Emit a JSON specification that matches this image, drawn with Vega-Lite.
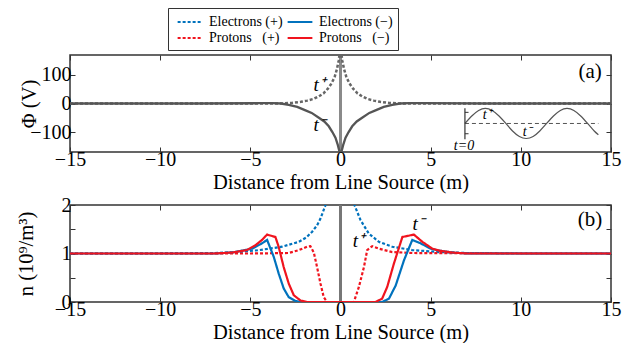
{
  "$schema": "https://vega.github.io/schema/vega-lite/v6.json",
  "background": "white",
  "padding": {"left": 15, "top": 7, "right": 4, "bottom": 2},
  "config": {
    "font": "Liberation Serif",
    "view": {"stroke": "#333", "strokeWidth": 1.5},
    "axis": {
      "labelFont": "Liberation Serif", "labelFontSize": 20, "labelColor": "black",
      "titleFont": "Liberation Serif", "titleFontSize": 20.5, "titleFontWeight": "normal", "titleColor": "black",
      "domain": false, "grid": false, "tickColor": "#333", "tickSize": -5, "tickWidth": 1
    }
  },
  "datasets": {
    "phi": [
      {"x": -15, "phi": 0, "t": "t+"}, {"x": -8, "phi": 0, "t": "t+"}, {"x": -4, "phi": 0, "t": "t+"},
      {"x": -3.2, "phi": 0.5, "t": "t+"}, {"x": -2.7, "phi": 2, "t": "t+"}, {"x": -2.2, "phi": 6, "t": "t+"},
      {"x": -1.85, "phi": 10, "t": "t+"}, {"x": -1.5, "phi": 16, "t": "t+"}, {"x": -1.2, "phi": 25, "t": "t+"},
      {"x": -0.95, "phi": 35, "t": "t+"}, {"x": -0.7, "phi": 52, "t": "t+"}, {"x": -0.5, "phi": 70, "t": "t+"},
      {"x": -0.33, "phi": 92, "t": "t+"}, {"x": -0.2, "phi": 120, "t": "t+"}, {"x": -0.1, "phi": 150, "t": "t+"},
      {"x": 0, "phi": 200, "t": "t+"}, {"x": 0.1, "phi": 150, "t": "t+"}, {"x": 0.2, "phi": 120, "t": "t+"},
      {"x": 0.33, "phi": 92, "t": "t+"}, {"x": 0.5, "phi": 70, "t": "t+"}, {"x": 0.7, "phi": 52, "t": "t+"},
      {"x": 0.95, "phi": 35, "t": "t+"}, {"x": 1.2, "phi": 25, "t": "t+"}, {"x": 1.5, "phi": 16, "t": "t+"},
      {"x": 1.85, "phi": 10, "t": "t+"}, {"x": 2.2, "phi": 6, "t": "t+"}, {"x": 2.7, "phi": 2, "t": "t+"},
      {"x": 3.2, "phi": 0.5, "t": "t+"}, {"x": 4, "phi": 0, "t": "t+"}, {"x": 8, "phi": 0, "t": "t+"},
      {"x": 15, "phi": 0, "t": "t+"},
      {"x": -15, "phi": 0, "t": "t-"}, {"x": -8, "phi": 0, "t": "t-"}, {"x": -4.5, "phi": 1, "t": "t-"},
      {"x": -3.8, "phi": 1.5, "t": "t-"}, {"x": -3.3, "phi": 0, "t": "t-"}, {"x": -2.87, "phi": -5, "t": "t-"},
      {"x": -2.4, "phi": -12, "t": "t-"}, {"x": -1.94, "phi": -24, "t": "t-"}, {"x": -1.6, "phi": -33, "t": "t-"},
      {"x": -1.2, "phi": -50, "t": "t-"}, {"x": -0.9, "phi": -63, "t": "t-"}, {"x": -0.65, "phi": -80, "t": "t-"},
      {"x": -0.45, "phi": -100, "t": "t-"}, {"x": -0.28, "phi": -120, "t": "t-"}, {"x": -0.15, "phi": -145, "t": "t-"},
      {"x": -0.05, "phi": -170, "t": "t-"}, {"x": 0, "phi": -200, "t": "t-"}, {"x": 0.05, "phi": -170, "t": "t-"},
      {"x": 0.15, "phi": -145, "t": "t-"}, {"x": 0.28, "phi": -120, "t": "t-"}, {"x": 0.45, "phi": -100, "t": "t-"},
      {"x": 0.65, "phi": -80, "t": "t-"}, {"x": 0.9, "phi": -63, "t": "t-"}, {"x": 1.2, "phi": -50, "t": "t-"},
      {"x": 1.6, "phi": -33, "t": "t-"}, {"x": 1.94, "phi": -24, "t": "t-"}, {"x": 2.4, "phi": -12, "t": "t-"},
      {"x": 2.87, "phi": -5, "t": "t-"}, {"x": 3.3, "phi": 0, "t": "t-"}, {"x": 3.8, "phi": 1.5, "t": "t-"},
      {"x": 4.5, "phi": 1, "t": "t-"}, {"x": 8, "phi": 0, "t": "t-"}, {"x": 15, "phi": 0, "t": "t-"}
    ],
    "sine": [
      {"x": 6.9, "phi": -70}, {"x": 7.28, "phi": -43.7}, {"x": 7.66, "phi": -24.4}, {"x": 8.03, "phi": -17.4},
      {"x": 8.41, "phi": -24.4}, {"x": 8.79, "phi": -43.7}, {"x": 9.17, "phi": -70}, {"x": 9.54, "phi": -96.3},
      {"x": 9.92, "phi": -115.6}, {"x": 10.3, "phi": -122.6}, {"x": 10.68, "phi": -115.6}, {"x": 11.05, "phi": -96.3},
      {"x": 11.43, "phi": -70}, {"x": 11.81, "phi": -43.7}, {"x": 12.19, "phi": -24.4}, {"x": 12.56, "phi": -17.4},
      {"x": 12.94, "phi": -24.4}, {"x": 13.32, "phi": -43.7}, {"x": 13.7, "phi": -70}, {"x": 14.07, "phi": -96.3},
      {"x": 14.3, "phi": -109.5}
    ],
    "dens": [
      {"x": -15, "n": 1, "series": "Electrons (+)"}, {"x": -10, "n": 1, "series": "Electrons (+)"},
      {"x": -7, "n": 1.01, "series": "Electrons (+)"}, {"x": -5.65, "n": 1.03, "series": "Electrons (+)"},
      {"x": -4.5, "n": 1.07, "series": "Electrons (+)"}, {"x": -3.24, "n": 1.14, "series": "Electrons (+)"},
      {"x": -2.31, "n": 1.24, "series": "Electrons (+)"}, {"x": -1.9, "n": 1.33, "series": "Electrons (+)"},
      {"x": -1.57, "n": 1.45, "series": "Electrons (+)"}, {"x": -1.3, "n": 1.58, "series": "Electrons (+)"},
      {"x": -1.11, "n": 1.72, "series": "Electrons (+)"}, {"x": -0.8, "n": 2.03, "series": "Electrons (+)"},
      {"x": -0.5, "n": 2.6, "series": "Electrons (+)"}, {"x": -0.2, "n": 3.5, "series": "Electrons (+)"},
      {"x": 0.2, "n": 3.5, "series": "Electrons (+)"}, {"x": 0.45, "n": 2.6, "series": "Electrons (+)"},
      {"x": 0.74, "n": 2.03, "series": "Electrons (+)"}, {"x": 1.11, "n": 1.69, "series": "Electrons (+)"},
      {"x": 1.57, "n": 1.41, "series": "Electrons (+)"}, {"x": 2.13, "n": 1.24, "series": "Electrons (+)"},
      {"x": 2.87, "n": 1.14, "series": "Electrons (+)"}, {"x": 3.98, "n": 1.07, "series": "Electrons (+)"},
      {"x": 5.46, "n": 1.03, "series": "Electrons (+)"}, {"x": 7, "n": 1.01, "series": "Electrons (+)"},
      {"x": 10, "n": 1, "series": "Electrons (+)"}, {"x": 15, "n": 1, "series": "Electrons (+)"},

      {"x": -15, "n": 1, "series": "Protons (+)"}, {"x": -5, "n": 1, "series": "Protons (+)"},
      {"x": -2.87, "n": 1.01, "series": "Protons (+)"}, {"x": -2.31, "n": 1.07, "series": "Protons (+)"},
      {"x": -1.85, "n": 1.14, "series": "Protons (+)"}, {"x": -1.67, "n": 1.15, "series": "Protons (+)"},
      {"x": -1.48, "n": 1.02, "series": "Protons (+)"}, {"x": -1.3, "n": 0.72, "series": "Protons (+)"},
      {"x": -1.11, "n": 0.38, "series": "Protons (+)"}, {"x": -0.93, "n": 0.1, "series": "Protons (+)"},
      {"x": -0.74, "n": 0, "series": "Protons (+)"}, {"x": 0.74, "n": 0, "series": "Protons (+)"},
      {"x": 1.02, "n": 0.31, "series": "Protons (+)"}, {"x": 1.3, "n": 0.72, "series": "Protons (+)"},
      {"x": 1.48, "n": 1.07, "series": "Protons (+)"}, {"x": 1.76, "n": 1.15, "series": "Protons (+)"},
      {"x": 2.13, "n": 1.1, "series": "Protons (+)"}, {"x": 2.87, "n": 1.03, "series": "Protons (+)"},
      {"x": 4, "n": 1.01, "series": "Protons (+)"}, {"x": 15, "n": 1, "series": "Protons (+)"},

      {"x": -15, "n": 1, "series": "Electrons (−)"}, {"x": -7, "n": 1, "series": "Electrons (−)"},
      {"x": -6, "n": 1.02, "series": "Electrons (−)"}, {"x": -4.9, "n": 1.1, "series": "Electrons (−)"},
      {"x": -4.35, "n": 1.21, "series": "Electrons (−)"}, {"x": -4.07, "n": 1.28, "series": "Electrons (−)"},
      {"x": -3.7, "n": 0.93, "series": "Electrons (−)"}, {"x": -3.43, "n": 0.59, "series": "Electrons (−)"},
      {"x": -3.15, "n": 0.28, "series": "Electrons (−)"}, {"x": -2.87, "n": 0.1, "series": "Electrons (−)"},
      {"x": -2.5, "n": 0.02, "series": "Electrons (−)"}, {"x": -2.13, "n": 0, "series": "Electrons (−)"},
      {"x": 2.31, "n": 0, "series": "Electrons (−)"}, {"x": 2.69, "n": 0.07, "series": "Electrons (−)"},
      {"x": 3.06, "n": 0.34, "series": "Electrons (−)"}, {"x": 3.52, "n": 0.86, "series": "Electrons (−)"},
      {"x": 3.98, "n": 1.28, "series": "Electrons (−)"}, {"x": 4.44, "n": 1.21, "series": "Electrons (−)"},
      {"x": 5.0, "n": 1.1, "series": "Electrons (−)"}, {"x": 5.46, "n": 1.06, "series": "Electrons (−)"},
      {"x": 6.2, "n": 1.02, "series": "Electrons (−)"}, {"x": 7, "n": 1, "series": "Electrons (−)"},
      {"x": 15, "n": 1, "series": "Electrons (−)"},

      {"x": -15, "n": 1, "series": "Protons (−)"}, {"x": -7, "n": 1, "series": "Protons (−)"},
      {"x": -6, "n": 1.02, "series": "Protons (−)"}, {"x": -5.2, "n": 1.07, "series": "Protons (−)"},
      {"x": -4.72, "n": 1.17, "series": "Protons (−)"}, {"x": -4.35, "n": 1.28, "series": "Protons (−)"},
      {"x": -4.07, "n": 1.39, "series": "Protons (−)"}, {"x": -3.61, "n": 1.34, "series": "Protons (−)"},
      {"x": -3.43, "n": 1.14, "series": "Protons (−)"}, {"x": -3.15, "n": 0.72, "series": "Protons (−)"},
      {"x": -2.87, "n": 0.38, "series": "Protons (−)"}, {"x": -2.59, "n": 0.14, "series": "Protons (−)"},
      {"x": -2.22, "n": 0.03, "series": "Protons (−)"}, {"x": -1.85, "n": 0, "series": "Protons (−)"},
      {"x": 1.94, "n": 0, "series": "Protons (−)"}, {"x": 2.31, "n": 0.07, "series": "Protons (−)"},
      {"x": 2.59, "n": 0.31, "series": "Protons (−)"}, {"x": 2.96, "n": 0.79, "series": "Protons (−)"},
      {"x": 3.43, "n": 1.34, "series": "Protons (−)"}, {"x": 4.07, "n": 1.39, "series": "Protons (−)"},
      {"x": 4.54, "n": 1.24, "series": "Protons (−)"}, {"x": 5.09, "n": 1.1, "series": "Protons (−)"},
      {"x": 5.46, "n": 1.06, "series": "Protons (−)"}, {"x": 6.2, "n": 1.02, "series": "Protons (−)"},
      {"x": 7, "n": 1, "series": "Protons (−)"}, {"x": 15, "n": 1, "series": "Protons (−)"}
    ]
  },
  "spacing": 0,
  "vconcat": [
    {
      "width": 541, "height": 97,
      "resolve": {"axis": {"x": "independent", "y": "independent"}},
      "layer": [
        {
          "data": {"values": [{"x": 0}]},
          "mark": {"type": "rule", "color": "#8a8a8a", "strokeWidth": 3},
          "encoding": {
            "x": {"field": "x", "type": "quantitative", "scale": {"domain": [-15, 15], "nice": false},
                  "axis": {"orient": "top", "labels": false, "title": null, "values": [-15, -10, -5, 0, 5, 10, 15]}}
          }
        },
        {
          "data": {"name": "phi"},
          "transform": [{"filter": "datum.t == 't+'"}],
          "mark": {"type": "line", "color": "#666", "strokeWidth": 2.5, "strokeDash": [3, 2], "clip": true},
          "encoding": {
            "x": {"field": "x", "type": "quantitative", "scale": {"domain": [-15, 15], "nice": false},
                  "axis": {"orient": "bottom", "values": [-15, -10, -5, 0, 5, 10, 15], "labelFlush": false,
                           "labelPadding": 2, "title": "Distance from Line Source (m)", "titleY": 30, "titleBaseline": "middle"}},
            "y": {"field": "phi", "type": "quantitative", "scale": {"domain": [-170, 170], "nice": false},
                  "axis": {"orient": "left", "values": [-100, 0, 100], "labelPadding": 4, "title": "Φ (V)",
                           "titleX": -41, "titleY": 48.5, "titleBaseline": "middle", "titleAlign": "center"}}
          }
        },
        {
          "data": {"name": "phi"},
          "transform": [{"filter": "datum.t == 't-'"}],
          "mark": {"type": "line", "color": "#555", "strokeWidth": 2.3, "clip": true},
          "encoding": {
            "x": {"field": "x", "type": "quantitative", "scale": {"domain": [-15, 15], "nice": false}, "axis": null},
            "y": {"field": "phi", "type": "quantitative", "scale": {"domain": [-170, 170], "nice": false}, "axis": null}
          }
        },
        {
          "data": {"name": "sine"},
          "mark": {"type": "line", "color": "#555", "strokeWidth": 1.2, "interpolate": "natural"},
          "encoding": {
            "x": {"field": "x", "type": "quantitative", "scale": {"domain": [-15, 15], "nice": false}, "axis": null},
            "y": {"field": "phi", "type": "quantitative", "scale": {"domain": [-170, 170], "nice": false}, "axis": null}
          }
        },
        {
          "data": {"values": [{"x": 6.9, "phi": -70}, {"x": 14.3, "phi": -70}]},
          "mark": {"type": "line", "color": "#555", "strokeWidth": 1, "strokeDash": [4, 3]},
          "encoding": {
            "x": {"field": "x", "type": "quantitative", "scale": {"domain": [-15, 15], "nice": false}, "axis": null},
            "y": {"field": "phi", "type": "quantitative", "scale": {"domain": [-170, 170], "nice": false}, "axis": null}
          }
        },
        {
          "data": {"values": [{"x": 6.9, "top": -17, "bottom": -125}]},
          "mark": {"type": "rule", "color": "#333", "strokeWidth": 1.2},
          "encoding": {
            "x": {"field": "x", "type": "quantitative", "scale": {"domain": [-15, 15], "nice": false}, "axis": null},
            "y": {"field": "top", "type": "quantitative", "scale": {"domain": [-170, 170], "nice": false}, "axis": null},
            "y2": {"field": "bottom"}
          }
        },
        {
          "data": {"values": [{"x": 6.9, "x2": 7.1, "phi": -31}, {"x": 6.9, "x2": 7.1, "phi": -106}]},
          "mark": {"type": "rule", "color": "#333", "strokeWidth": 1},
          "encoding": {
            "x": {"field": "x", "type": "quantitative", "scale": {"domain": [-15, 15], "nice": false}, "axis": null},
            "x2": {"field": "x2"},
            "y": {"field": "phi", "type": "quantitative", "scale": {"domain": [-170, 170], "nice": false}, "axis": null}
          }
        },
        {
          "data": {"values": [{"x": -1.18, "phi": 65, "label": "t⁺"}, {"x": -1.18, "phi": -76, "label": "t⁻"}]},
          "mark": {"type": "text", "font": "Liberation Serif", "fontSize": 19, "fontStyle": "italic", "color": "black"},
          "encoding": {
            "x": {"field": "x", "type": "quantitative", "scale": {"domain": [-15, 15], "nice": false}, "axis": null},
            "y": {"field": "phi", "type": "quantitative", "scale": {"domain": [-170, 170], "nice": false}, "axis": null},
            "text": {"field": "label"}
          }
        },
        {
          "data": {"values": [{"x": 8.13, "phi": -40, "label": "t⁺"}, {"x": 10.35, "phi": -99, "label": "t⁻"}, {"x": 6.85, "phi": -148, "label": "t=0"}]},
          "mark": {"type": "text", "font": "Liberation Serif", "fontSize": 14, "fontStyle": "italic", "color": "black"},
          "encoding": {
            "x": {"field": "x", "type": "quantitative", "scale": {"domain": [-15, 15], "nice": false}, "axis": null},
            "y": {"field": "phi", "type": "quantitative", "scale": {"domain": [-170, 170], "nice": false}, "axis": null},
            "text": {"field": "label"}
          }
        },
        {
          "data": {"values": [{"x": 13.84, "phi": 111, "label": "(a)"}]},
          "mark": {"type": "text", "font": "Liberation Serif", "fontSize": 21, "color": "black"},
          "encoding": {
            "x": {"field": "x", "type": "quantitative", "scale": {"domain": [-15, 15], "nice": false}, "axis": null},
            "y": {"field": "phi", "type": "quantitative", "scale": {"domain": [-170, 170], "nice": false},
                  "axis": {"orient": "right", "values": [-100, 0, 100], "labels": false, "title": null}},
            "text": {"field": "label"}
          }
        }
      ]
    },
    {
      "width": 541, "height": 97,
      "resolve": {"axis": {"x": "independent", "y": "independent"}},
      "layer": [
        {
          "data": {"values": [{"x": 0}]},
          "mark": {"type": "rule", "color": "#777", "strokeWidth": 3},
          "encoding": {
            "x": {"field": "x", "type": "quantitative", "scale": {"domain": [-15, 15], "nice": false},
                  "axis": {"orient": "top", "labels": false, "title": null, "values": [-15, -10, -5, 0, 5, 10, 15]}}
          }
        },
        {
          "data": {"name": "dens"},
          "mark": {"type": "line", "strokeWidth": 2.2, "clip": true},
          "encoding": {
            "x": {"field": "x", "type": "quantitative", "scale": {"domain": [-15, 15], "nice": false},
                  "axis": {"orient": "bottom", "values": [-15, -10, -5, 0, 5, 10, 15], "labelFlush": false,
                           "labelPadding": 2, "title": "Distance from Line Source (m)", "titleY": 30, "titleBaseline": "middle"}},
            "y": {"field": "n", "type": "quantitative", "scale": {"domain": [0, 2], "nice": false},
                  "axis": {"orient": "left", "values": [0, 0.5, 1, 1.5, 2], "labelPadding": 4,
                           "labelExpr": "datum.value == 0.5 || datum.value == 1.5 ? '' : format(datum.value, 'd')",
                           "title": "n (10⁹/m³)", "titleX": -44, "titleY": 48.5, "titleBaseline": "middle", "titleAlign": "center"}},
            "color": {"field": "series", "type": "nominal",
                      "scale": {"domain": ["Electrons (+)", "Protons (+)", "Electrons (−)", "Protons (−)"],
                                "range": ["#0072BD", "#f0141e", "#0072BD", "#f0141e"]},
                      "legend": {"orient": "none", "legendX": 98, "legendY": -47, "columns": 2, "title": null,
                                 "strokeColor": "#333", "fillColor": "white", "padding": 5,
                                 "symbolType": "M-1.65,0H1.65", "symbolSize": 225, "symbolStrokeWidth": 2.2,
                                 "symbolOffset": 8,
                                 "labelFont": "Liberation Serif", "labelFontSize": 14, "labelColor": "black",
                                 "columnPadding": 0, "rowPadding": 0, "labelOffset": 10,
                                 "labelExpr": "replace(datum.label, 'Protons ', 'Protons\u00a0\u00a0 ')"}},
            "strokeDash": {"field": "series", "type": "nominal",
                           "scale": {"domain": ["Electrons (+)", "Protons (+)", "Electrons (−)", "Protons (−)"],
                                     "range": [[3, 2], [3, 2], [1, 0], [1, 0]]},
                           "legend": {"orient": "none", "legendX": 98, "legendY": -47, "columns": 2, "title": null,
                                 "strokeColor": "#333", "fillColor": "white", "padding": 5,
                                 "symbolType": "M-1.65,0H1.65", "symbolSize": 225, "symbolStrokeWidth": 2.2,
                                 "symbolOffset": 8,
                                 "labelFont": "Liberation Serif", "labelFontSize": 14, "labelColor": "black",
                                 "columnPadding": 0, "rowPadding": 0, "labelOffset": 10,
                                 "labelExpr": "replace(datum.label, 'Protons ', 'Protons\u00a0\u00a0 ')"}}
          }
        },
        {
          "data": {"values": [{"x": 0.99, "n": 1.26, "label": "t⁺"}, {"x": 4.3, "n": 1.61, "label": "t⁻"}]},
          "mark": {"type": "text", "font": "Liberation Serif", "fontSize": 19, "fontStyle": "italic", "color": "black"},
          "encoding": {
            "x": {"field": "x", "type": "quantitative", "scale": {"domain": [-15, 15], "nice": false}, "axis": null},
            "y": {"field": "n", "type": "quantitative", "scale": {"domain": [0, 2], "nice": false}, "axis": null},
            "text": {"field": "label"}
          }
        },
        {
          "data": {"values": [{"x": 13.84, "n": 1.69, "label": "(b)"}]},
          "mark": {"type": "text", "font": "Liberation Serif", "fontSize": 21, "color": "black"},
          "encoding": {
            "x": {"field": "x", "type": "quantitative", "scale": {"domain": [-15, 15], "nice": false}, "axis": null},
            "y": {"field": "n", "type": "quantitative", "scale": {"domain": [0, 2], "nice": false},
                  "axis": {"orient": "right", "values": [0, 0.5, 1, 1.5, 2], "labels": false, "title": null}},
            "text": {"field": "label"}
          }
        }
      ]
    }
  ]
}
